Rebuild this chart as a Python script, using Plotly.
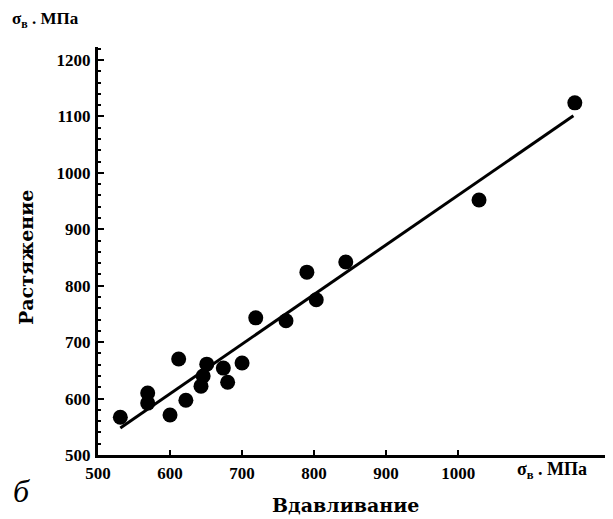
import plotly.graph_objects as go

# Data
x_indent = [531, 569, 569, 600, 612, 622, 643, 646, 651, 674, 680, 700, 719, 761, 790, 803, 844, 1029, 1162]
y_tension = [567, 610, 592, 571, 670, 597, 622, 640, 661, 654, 629, 663, 743, 738, 824, 775, 842, 952, 1124]
fit_x = [531, 1160]
fit_y = [548, 1101]
x_ticks = [500, 600, 700, 800, 900, 1000]
y_ticks = [500, 600, 700, 800, 900, 1000, 1100, 1200]

FONT = "Liberation Serif"
TFONT = "DejaVu Serif"

fig = go.Figure()
fig.add_trace(go.Scatter(x=fit_x, y=fit_y, mode="lines",
                         line=dict(color="black", width=3), showlegend=False))
fig.add_trace(go.Scatter(x=x_indent, y=y_tension, mode="markers",
                         marker=dict(color="black", size=15, line=dict(width=0)),
                         showlegend=False))

fig.update_layout(
    width=605, height=511,
    margin=dict(l=90, r=0, t=39, b=64, autoexpand=False),
    paper_bgcolor="white", plot_bgcolor="white",
    font=dict(family=FONT, color="black", size=17),
    xaxis=dict(range=[500, 1215], tickvals=x_ticks, ticktext=["<b>%d</b>" % v for v in x_ticks],
               showgrid=False, zeroline=False, showline=True, linecolor="black", linewidth=3,
               ticks="inside", ticklen=5, tickwidth=2, tickcolor="black",
               tickfont=dict(family=FONT, size=17, color="black"), ticklabelstandoff=1),
    yaxis=dict(range=[500, 1223], tickvals=y_ticks, ticktext=["<b>%d</b>" % v for v in y_ticks],
               showgrid=False, zeroline=False, showline=True, linecolor="black", linewidth=3,
               ticks="inside", ticklen=6, tickwidth=2, tickcolor="black",
               minor=dict(dtick=20, ticks="inside", ticklen=3, tickwidth=1.5, tickcolor="black"),
               tickfont=dict(family=FONT, size=17, color="black"), ticklabelstandoff=1),
    annotations=[
        dict(text="<b>σ<sub>в</sub> . МПа</b>", xref="paper", yref="paper",
             x=-0.17, y=1.065, xanchor="left", yanchor="middle", showarrow=False,
             font=dict(family=FONT, size=17, color="black")),
        dict(text="<b>σ<sub>в</sub> . МПа</b>", xref="paper", yref="paper",
             x=0.81, y=-0.005, xanchor="left", yanchor="top", showarrow=False,
             font=dict(family=FONT, size=18, color="black")),
        dict(text="<b>Растяжение</b>", xref="paper", yref="paper",
             x=-0.14, y=0.485, xanchor="center", yanchor="middle", showarrow=False,
             textangle=-90, font=dict(family=TFONT, size=19, color="black")),
        dict(text="<b>Вдавливание</b>", xref="paper", yref="paper",
             x=0.48, y=-0.09, xanchor="center", yanchor="top", showarrow=False,
             font=dict(family=TFONT, size=19, color="black")),
        dict(text="<i>б</i>", xref="paper", yref="paper",
             x=-0.168, y=-0.04, xanchor="left", yanchor="top", showarrow=False,
             font=dict(family=FONT, size=32, color="black")),
    ],
)

fig.write_html("out.html")
